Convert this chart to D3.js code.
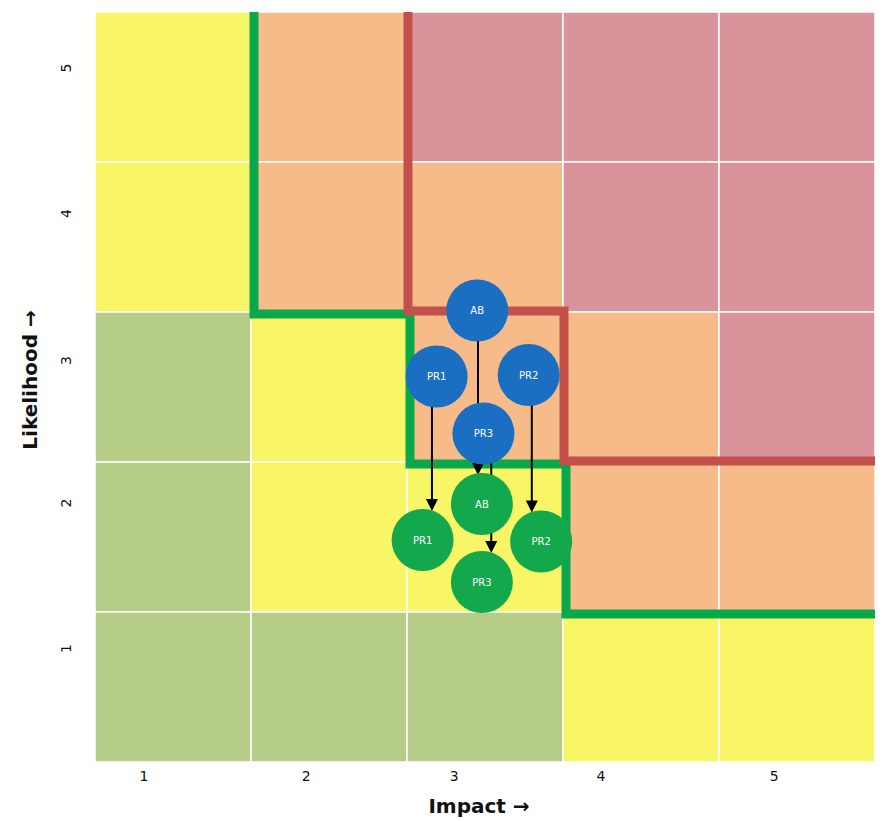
<!DOCTYPE html>
<html>
<head>
<meta charset="utf-8">
<script src="https://cdn.jsdelivr.net/npm/d3@7"></script>
<style>
  html, body { margin: 0; padding: 0; background: #ffffff; }
  svg { display: block; font-family: "DejaVu Sans", sans-serif; }
</style>
</head>
<body>
<svg id="chart" width="885" height="821"></svg>
<script>
// Risk matrix: impact (columns) vs likelihood (rows)
const impactLevels = [1, 2, 3, 4, 5];
const likelihoodLevels = [5, 4, 3, 2, 1];

// Rating of each cell, rows from likelihood 5 down to 1, columns impact 1..5
const cellRatings = [
  ["medium", "high", "critical", "critical", "critical"],
  ["medium", "high", "high", "critical", "critical"],
  ["low", "medium", "high", "high", "critical"],
  ["low", "medium", "medium", "high", "high"],
  ["low", "low", "low", "medium", "medium"]
];

// Tick label anchors (in impact / likelihood units)
const impactTickAt = [0.81, 1.85, 2.80, 3.74, 4.85];
const likelihoodTickAt = [5.13, 4.16, 3.18, 2.23, 1.26];

// Appetite boundaries (cell-edge coordinates)
const lowerBoundary = [[1.5, 5.6], [1.5, 3.5], [2.5, 3.5], [2.5, 2.5], [3.5, 2.5], [3.5, 1.5], [5.6, 1.5]];
const upperBoundary = [[2.5, 5.6], [2.5, 3.5], [3.5, 3.5], [3.5, 2.5], [5.6, 2.5]];

// Risks before (inherent) and after (residual) treatment
const riskNames = ["AB", "PR1", "PR2", "PR3"];
const inherentImpact = [2.95, 2.69, 3.28, 2.99];
const inherentLikelihood = [3.51, 3.07, 3.08, 2.69];
const residualImpact = [2.98, 2.60, 3.36, 2.98];
const residualLikelihood = [2.22, 1.98, 1.97, 1.70];
const arrowImpact = [2.955, 2.66, 3.30, 3.04];

const ratingColor = d3.scaleOrdinal()
  .domain(["low", "medium", "high", "critical"])
  .range(["#b6cd88", "#f8f566", "#f6bb88", "#d9939a"]);

const svg = d3.select("#chart");
const plotLeft = 95, plotRight = 875, plotTop = 12, plotBottom = 762;

const x = d3.scaleLinear().domain([0.5, 5.5]).range([plotLeft, plotRight]);
const y = d3.scaleLinear().domain([0.5, 5.5]).range([plotBottom, plotTop]);

svg.append("defs").append("clipPath").attr("id", "plot-clip")
  .append("rect")
  .attr("x", plotLeft).attr("y", plotTop)
  .attr("width", plotRight - plotLeft).attr("height", plotBottom - plotTop);

// Cells
const cells = [];
likelihoodLevels.forEach((l, r) => {
  impactLevels.forEach((i, c) => {
    cells.push({ impact: i, likelihood: l, rating: cellRatings[r][c] });
  });
});

svg.append("g").selectAll("rect")
  .data(cells)
  .join("rect")
  .attr("x", d => x(d.impact - 0.5))
  .attr("y", d => y(d.likelihood + 0.5))
  .attr("width", d => x(d.impact + 0.5) - x(d.impact - 0.5))
  .attr("height", d => y(d.likelihood - 0.5) - y(d.likelihood + 0.5))
  .attr("fill", d => ratingColor(d.rating))
  .attr("stroke", "#ffffff")
  .attr("stroke-width", 1.5);

// Boundary lines
const line = d3.line().x(d => x(d[0])).y(d => y(d[1])).curve(d3.curveLinear);
const boundaryG = svg.append("g").attr("clip-path", "url(#plot-clip)");

boundaryG.append("path")
  .datum(lowerBoundary)
  .attr("d", line)
  .attr("transform", "translate(3,2)")
  .attr("fill", "none")
  .attr("stroke", "#0aa84c")
  .attr("stroke-width", 9);

boundaryG.append("path")
  .datum(upperBoundary)
  .attr("d", line)
  .attr("transform", "translate(1,-1)")
  .attr("fill", "none")
  .attr("stroke", "#c4504c")
  .attr("stroke-width", 9);

// Movement arrows (under the circles)
const radius = 31;
const arrows = riskNames.map((n, k) => ({
  x: arrowImpact[k],
  y0: inherentLikelihood[k],
  y1: residualLikelihood[k]
}));

const arrowG = svg.append("g");
arrows.forEach(a => {
  const px = x(a.x);
  const pyStart = y(a.y0);
  const tip = y(a.y1) - radius + 2;
  arrowG.append("line")
    .attr("x1", px).attr("y1", pyStart)
    .attr("x2", px).attr("y2", tip - 8)
    .attr("stroke", "#000000")
    .attr("stroke-width", 2);
  arrowG.append("path")
    .attr("d", `M${px - 6},${tip - 12} L${px + 6},${tip - 12} L${px},${tip} Z`)
    .attr("fill", "#000000");
});

// Risk circles
function drawRisks(impacts, likelihoods, color) {
  const g = svg.append("g");
  const data = riskNames.map((n, k) => ({ name: n, i: impacts[k], l: likelihoods[k] }));
  const node = g.selectAll("g").data(data).join("g")
    .attr("transform", d => `translate(${x(d.i)},${y(d.l)})`);
  node.append("circle")
    .attr("r", radius)
    .attr("fill", color);
  node.append("text")
    .attr("text-anchor", "middle")
    .attr("dy", "0.35em")
    .attr("fill", "#ffffff")
    .attr("font-size", 10)
    .text(d => d.name);
}
drawRisks(inherentImpact, inherentLikelihood, "#1a6fc3");
drawRisks(residualImpact, residualLikelihood, "#12a84b");

// Axes
const xAxis = d3.axisBottom(x)
  .tickValues(impactTickAt)
  .tickSize(0)
  .tickPadding(0)
  .tickFormat((d, k) => impactLevels[k]);

const gx = svg.append("g")
  .attr("transform", `translate(0,${plotBottom + 9})`)
  .call(xAxis);
gx.select(".domain").remove();
gx.selectAll("text")
  .attr("font-family", "DejaVu Sans, sans-serif")
  .attr("font-size", 14)
  .attr("fill", "#111111");

const yAxis = d3.axisLeft(y)
  .tickValues(likelihoodTickAt)
  .tickSize(0)
  .tickPadding(0)
  .tickFormat((d, k) => likelihoodLevels[k]);

const gy = svg.append("g")
  .attr("transform", "translate(66,0)")
  .call(yAxis);
gy.select(".domain").remove();
gy.selectAll("text")
  .attr("font-family", "DejaVu Sans, sans-serif")
  .attr("font-size", 14)
  .attr("fill", "#111111")
  .attr("x", 0)
  .attr("dy", "0.35em")
  .attr("text-anchor", "middle")
  .attr("transform", "rotate(-90)");

// Axis titles
svg.append("text")
  .attr("x", 479)
  .attr("y", 813)
  .attr("text-anchor", "middle")
  .attr("font-size", 20)
  .attr("font-weight", "bold")
  .attr("fill", "#111111")
  .text("Impact \u2192");

svg.append("text")
  .attr("transform", "translate(37,380) rotate(-90)")
  .attr("text-anchor", "middle")
  .attr("font-size", 20)
  .attr("font-weight", "bold")
  .attr("fill", "#111111")
  .text("Likelihood \u2192");
</script>
</body>
</html>
